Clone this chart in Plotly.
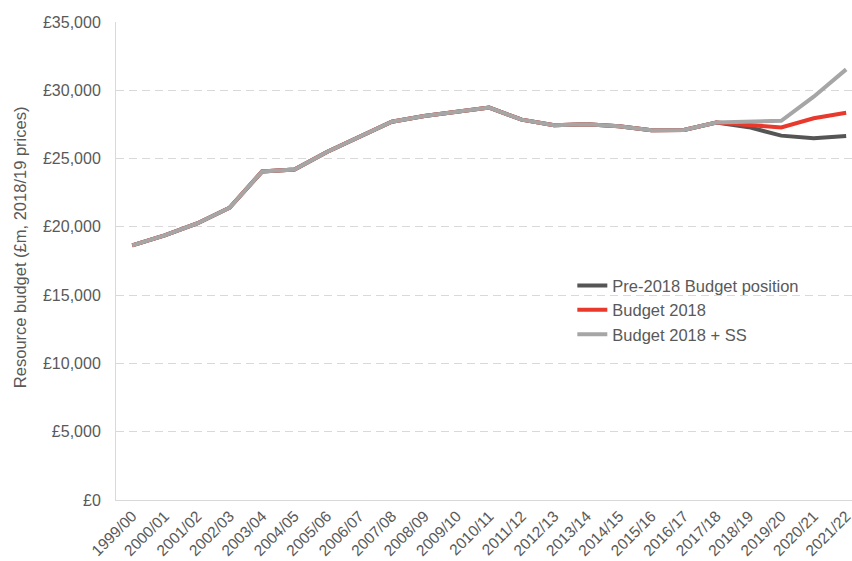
import plotly.graph_objects as go

years = ["1999/00", "2000/01", "2001/02", "2002/03", "2003/04", "2004/05", "2005/06",
         "2006/07", "2007/08", "2008/09", "2009/10", "2010/11", "2011/12", "2012/13",
         "2013/14", "2014/15", "2015/16", "2016/17", "2017/18", "2018/19", "2019/20",
         "2020/21", "2021/22"]

common = [18650, 19380, 20250, 21400, 24050, 24200, 25480, 26600, 27700, 28120,
          28420, 28730, 27850, 27440, 27520, 27360, 27080, 27100, 27640]

pre_2018 = common + [27300, 26680, 26480, 26650]
budget_2018 = common + [27460, 27280, 27950, 28350]
budget_2018_ss = common + [27720, 27770, 29530, 31530]

y_ticks = [0, 5000, 10000, 15000, 20000, 25000, 30000, 35000]
y_tick_labels = ["£0", "£5,000", "£10,000", "£15,000", "£20,000", "£25,000", "£30,000", "£35,000"]

series = [
    ("Pre-2018 Budget position", pre_2018, "#555555"),
    ("Budget 2018", budget_2018, "#e8392c"),
    ("Budget 2018 + SS", budget_2018_ss, "#a6a6a6"),
]

fig = go.Figure()
for name, vals, col in series:
    fig.add_trace(go.Scatter(x=years, y=vals, mode="lines", name=name,
                             line=dict(color=col, width=4)))

fig.update_layout(
    width=852, height=561,
    margin=dict(l=116, r=0, t=22, b=61),
    paper_bgcolor="white", plot_bgcolor="white",
    font=dict(family="Liberation Sans, Arial, sans-serif", color="#595959", size=16),
    showlegend=True,
    legend=dict(x=0.62, y=0.485, xanchor="left", yanchor="top",
                font=dict(size=16.5, color="#595959"),
                itemwidth=30, tracegroupgap=0, bgcolor="rgba(0,0,0,0)"),
    annotations=[dict(text="Resource budget (£m, 2018/19 prices)", textangle=-90,
                      xref="paper", yref="paper", x=0, y=0.529, xanchor="center",
                      yanchor="middle", xshift=-96, showarrow=False,
                      font=dict(size=16.5, color="#595959"))],
)
fig.update_xaxes(
    type="category", range=[-0.5, 22.18], automargin=False,
    showline=True, linecolor="#d9d9d9", linewidth=1,
    showgrid=False, tickangle=-45, ticks="",
    tickfont=dict(size=15.5, color="#595959"),
)
fig.update_yaxes(
    range=[0, 35000], tickvals=y_ticks, ticktext=y_tick_labels, automargin=False,
    showline=True, linecolor="#d9d9d9", linewidth=1,
    showgrid=True, gridcolor="#d9d9d9", griddash="8px,5px", gridwidth=1,
    zeroline=False, ticks="", ticklabelstandoff=11,
    tickfont=dict(size=16, color="#595959"),
)

fig.write_html("out.html", config={"displayModeBar": False},
               post_script="document.body.style.margin='0';document.body.style.overflow='hidden';")
